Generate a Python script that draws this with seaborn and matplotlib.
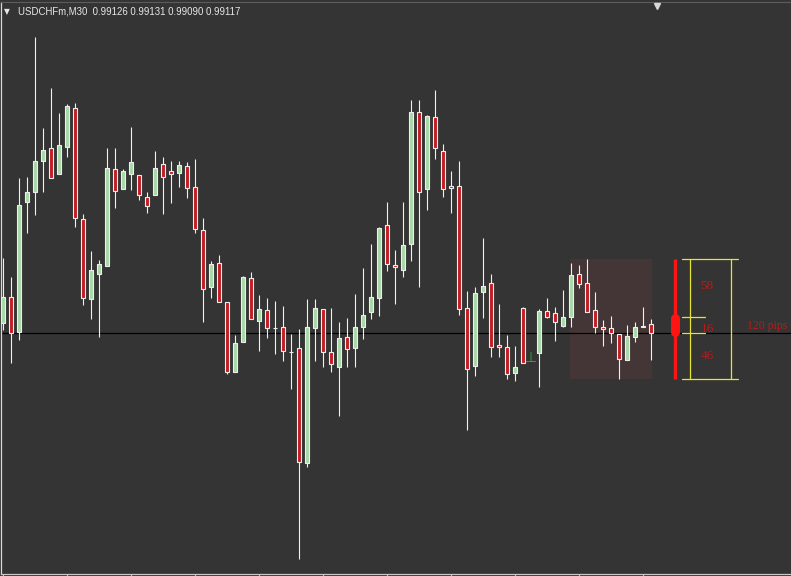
import matplotlib
matplotlib.use("Agg")
import matplotlib.pyplot as plt
import seaborn as sns
import numpy as np
import pandas as pd

symbol = "USDCHFm,M30"

opens = [0.99127, 0.99153, 0.99118, 0.99248, 0.99258, 0.99289, 0.99302, 0.99276, 0.99303, 0.99342,
         0.99231, 0.99151, 0.99176, 0.99184, 0.99281, 0.99261, 0.99276, 0.99275, 0.99253, 0.99255,
         0.99286, 0.99279, 0.99277, 0.99284, 0.99263, 0.99220, 0.99163, 0.99187, 0.99148, 0.99078,
         0.99108, 0.99172, 0.99129, 0.99140, 0.99122, 0.99123, 0.99098, 0.99102, 0.98987, 0.99122,
         0.99141, 0.99098, 0.99083, 0.99113, 0.99102, 0.99123, 0.99138, 0.99152, 0.99225, 0.99185,
         0.99180, 0.99206, 0.99338, 0.99261, 0.99333, 0.99299, 0.99264, 0.99264, 0.99142, 0.99084,
         0.99158, 0.99167, 0.99105, 0.99103, 0.99077, 0.99142, np.nan, 0.99097, 0.99139, 0.99137,
         0.99124, 0.99133, 0.99176, 0.99167, 0.99140, 0.99123, 0.99122, 0.99116, 0.99090, 0.99113,
         0.99123, 0.99126]
highs = [0.99192, 0.99173, 0.99272, 0.99273, 0.99413, 0.99322, 0.99362, 0.99337, 0.99346, 0.99347,
         0.99236, 0.99199, 0.99190, 0.99302, 0.99302, 0.99281, 0.99323, 0.99275, 0.99258, 0.99299,
         0.99293, 0.99289, 0.99289, 0.99288, 0.99291, 0.99232, 0.99189, 0.99195, 0.99148, 0.99115,
         0.99174, 0.99178, 0.99155, 0.99152, 0.99149, 0.99144, 0.99116, 0.99121, 0.99151, 0.99151,
         0.99141, 0.99142, 0.99128, 0.99132, 0.99156, 0.99182, 0.99206, 0.99223, 0.99248, 0.99200,
         0.99248, 0.99350, 0.99350, 0.99335, 0.99360, 0.99306, 0.99279, 0.99289, 0.99159, 0.99163,
         0.99212, 0.99176, 0.99146, 0.99115, 0.99104, 0.99143, np.nan, 0.99141, 0.99152, 0.99143,
         0.99160, 0.99187, 0.99185, 0.99191, 0.99158, 0.99130, 0.99134, 0.99116, 0.99125, 0.99128,
         0.99143, 0.99131]
lows = [0.99120, 0.99087, 0.99110, 0.99217, 0.99235, 0.99258, 0.99272, 0.99276, 0.99293, 0.99223,
        0.99145, 0.99131, 0.99113, 0.99184, 0.99242, 0.99261, 0.99260, 0.99250, 0.99237, 0.99255,
        0.99236, 0.99247, 0.99263, 0.99252, 0.99217, 0.99128, 0.99152, 0.99148, 0.99076, 0.99078,
        0.99108, 0.99131, 0.99099, 0.99112, 0.99096, 0.99089, 0.99061, 0.98891, 0.98983, 0.99089,
        0.99083, 0.99078, 0.99034, 0.99083, 0.99083, 0.99111, 0.99131, 0.99134, 0.99179, 0.99146,
        0.99173, 0.99189, 0.99163, 0.99240, 0.99291, 0.99253, 0.99237, 0.99135, 0.99020, 0.99074,
        0.99132, 0.99093, 0.99093, 0.99071, 0.99069, 0.99087, np.nan, 0.99063, 0.99132, 0.99109,
        0.99123, 0.99123, 0.99162, 0.99138, 0.99117, 0.99104, 0.99107, 0.99071, 0.99090, 0.99108,
        0.99123, 0.99090]
closes = [0.99153, 0.99117, 0.99245, 0.99258, 0.99289, 0.99300, 0.99272, 0.99305, 0.99344, 0.99232,
          0.99152, 0.99180, 0.99186, 0.99282, 0.99259, 0.99279, 0.99288, 0.99255, 0.99244, 0.99282,
          0.99273, 0.99276, 0.99285, 0.99262, 0.99221, 0.99161, 0.99186, 0.99148, 0.99078, 0.99107,
          0.99173, 0.99131, 0.99141, 0.99122, 0.99122, 0.99099, 0.99098, 0.98988, 0.99123, 0.99142,
          0.99098, 0.99086, 0.99112, 0.99101, 0.99123, 0.99135, 0.99153, 0.99222, 0.99186, 0.99183,
          0.99205, 0.99338, 0.99258, 0.99334, 0.99302, 0.99261, 0.99262, 0.99141, 0.99081, 0.99157,
          0.99164, 0.99103, 0.99103, 0.99076, 0.99083, 0.99087, np.nan, 0.99139, 0.99133, 0.99128,
          0.99133, 0.99175, 0.99166, 0.99138, 0.99123, 0.99121, 0.99117, 0.99091, 0.99114, 0.99123,
          0.99124, 0.99117]

# arrow signal drawn under bar 66
signal_index = 66
signal_price = 0.99092

# range of the last bars
range_start = 71
range_high = 0.99191
range_low = 0.99071
range_level = 0.99133
range_labels = ["58", "16", "46"]
total_label = "120 pips"

BG = "#343434"
UP = "#a8d8a8"
DOWN = "#c41c24"
LABEL = "#b81a1a"


def main():
    sns.set_style("dark", rc={"axes.facecolor": BG, "figure.facecolor": BG})

    df = pd.DataFrame({"open": opens, "high": highs, "low": lows, "close": closes})
    df["idx"] = np.arange(len(df))
    df = df.dropna()
    up = df["close"] >= df["open"]
    last = len(opens) - 1
    close_now = closes[-1]

    fig = plt.figure(figsize=(7.91, 5.76), dpi=100)
    ax = fig.add_axes([1 / 791, 2 / 576, 790 / 791, 572 / 576])
    ax.set_xlim(-0.25, 98.5)
    ax.set_ylim(0.98876, 0.99448)

    # shaded range box
    ax.fill_between([range_start - 0.125, last + 0.125], range_low, range_high,
                    color="#443636", zorder=1, lw=0)

    # current price line
    ax.axhline(close_now, color="black", lw=0.9, zorder=2)

    # wicks and bodies
    ax.vlines(df["idx"], df["low"], df["high"], color="#f0f0f0", lw=0.8, zorder=3)
    bottom = np.minimum(df["open"], df["close"])
    height = np.maximum(np.abs(df["close"] - df["open"]), 0.4e-5)
    ax.bar(df["idx"], height, bottom=bottom, width=0.58,
           color=np.where(up, UP, DOWN), edgecolor="#f4ecec", linewidth=0.8, zorder=4)

    ax.text(signal_index, signal_price, "⊥", color="#2bb52b", fontsize=10,
            ha="center", va="center", zorder=5)

    # range indicator on the right
    x_ind = last + 3
    ax.plot([x_ind, x_ind], [range_low, range_high], color="#ff1414", lw=2.4,
            solid_capstyle="butt", zorder=5)
    ax.plot([x_ind, x_ind], [range_level - 0.00001, close_now + 0.00001], color="#ff1414",
            lw=6.5, solid_capstyle="round", zorder=5)

    yel = "#e6e632"
    for y in (range_high, range_low):
        ax.plot([last + 3.875, last + 10.875], [y, y], color=yel, lw=0.9, zorder=5)
    for y in (range_level, close_now):
        ax.plot([last + 3.875, last + 6.75], [y, y], color=yel, lw=0.9, zorder=5)
    for x in (last + 4.875, last + 10):
        ax.plot([x, x], [range_low, range_high], color=yel, lw=0.9, zorder=5)

    label_y = [(range_high + range_level) / 2 + 0.00002, (range_level + close_now) / 2 - 0.00004,
               (close_now + range_low) / 2]
    for lab, y in zip(range_labels, label_y):
        ax.text(last + 7, y, lab, color=LABEL, fontsize=9.5, family="Liberation Serif",
                ha="center", va="center", zorder=6)
    ax.text(last + 12.0, (range_level + close_now) / 2 - 0.00001, total_label, color=LABEL,
            fontsize=8.5, family="Liberation Serif", ha="left", va="center", zorder=6)

    # frame
    ax.spines["right"].set_visible(False)
    ax.spines["left"].set_color("#d8d8d8")
    ax.spines["left"].set_linewidth(0.9)
    ax.spines["top"].set_color("#5c5c5c")
    ax.spines["bottom"].set_color("#c8c8c8")
    ax.spines["bottom"].set_linewidth(0.9)
    ax.set_xticks(np.arange(0, 81, 8))
    ax.set_xticklabels([])
    ax.set_yticks([])
    ax.tick_params(axis="x", direction="out", length=3, width=0.8, color="#c8c8c8", bottom=True)
    ax.grid(False)

    ax.plot([last + 0.75], [0.99444], marker="v", ms=5, color="#d8d8d8",
            clip_on=False, zorder=6)

    head = "  ".join([symbol, " ".join(f"{v:.5f}" for v in (opens[-1], highs[-1], lows[-1], closes[-1]))])
    fig.text(4 / 791, 1 - 12 / 576, "▼", color="#e8e8e8", fontsize=5.5, va="center")
    fig.text(18 / 791, 1 - 12 / 576, head, color="#e8e8e8", fontsize=6.9,
             family="Liberation Sans", va="center")

    fig.savefig("out.png", dpi=100, facecolor=BG)


if __name__ == "__main__":
    main()
